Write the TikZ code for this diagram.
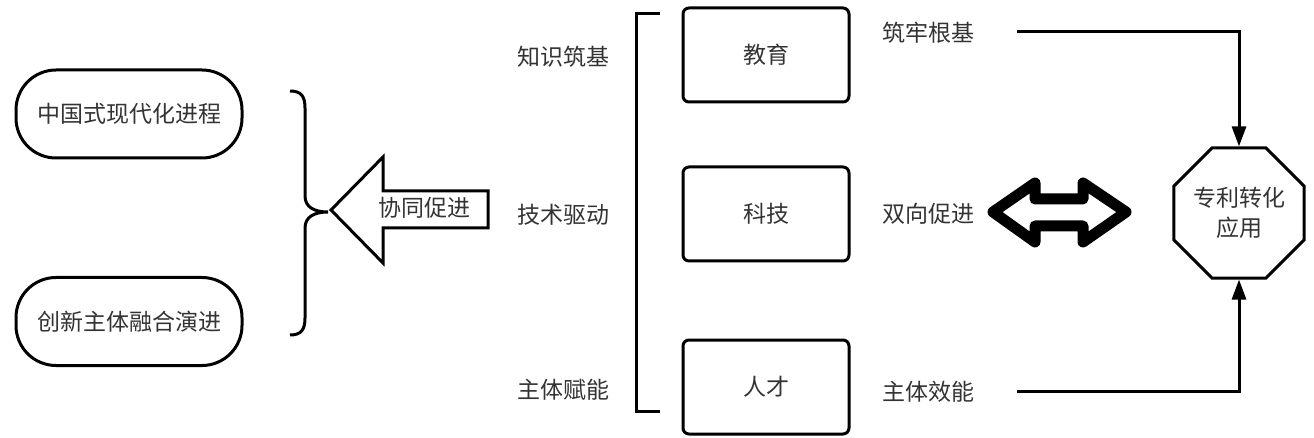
\documentclass[tikz,border=0pt]{standalone}
\usepackage{fontspec}
\setmainfont{Noto Sans CJK SC}
\usetikzlibrary{shapes.geometric,arrows.meta}
\begin{document}
\begin{tikzpicture}[x=1pt,y=-1pt,
  every node/.style={text=black!80, font=\fontsize{23}{30}\selectfont, inner sep=0pt},
  pill/.style={draw=black, line width=3pt, rounded corners=40pt, minimum width=226pt, minimum height=88pt},
  box/.style={draw=black, line width=3pt, rounded corners=6pt, minimum width=166pt, minimum height=94pt},
  lbl/.style={},
  conn/.style={draw=black, line width=3pt, -{Triangle[length=20pt,width=14pt]}},
  oct/.style={draw=black, line width=3pt, regular polygon, regular polygon sides=8, minimum size=138pt, align=center}
]
\useasboundingbox (0,0) rectangle (1314,438);
% left pills
\node[pill] (p1) at (129,114) {中国式现代化进程};
\node[pill] (p2) at (129,321.5) {创新主体融合演进};
% brace
\draw[line width=3pt] (290,91) .. controls (301,91) and (305,96) .. (305,108) -- (305,196)
  .. controls (305,207) and (314,212) .. (328,212)
  .. controls (314,212) and (305,217) .. (305,228) -- (305,318)
  .. controls (305,330) and (301,335) .. (290,335);
% hollow arrow
\draw[line width=3pt, line join=miter] (331,210) -- (383,157) -- (383,191) -- (488,191) -- (488,228) -- (383,228) -- (383,263) -- cycle;
\node (xt) at (424,208) {协同促进};
% left labels
\node[lbl] (l1) at (563,57) {知识筑基};
\node[lbl] (l2) at (563,215) {技术驱动};
\node[lbl] (l3) at (563,390) {主体赋能};
% bracket
\draw[line width=3pt] (660,14) -- (636,14) -- (636,411) -- (660,411);
% boxes
\node[box] (b1) at (766,55) {教育};
\node[box] (b2) at (766,214) {科技};
\node[box] (b3) at (766,387) {人才};
% right labels
\node[lbl] (r1) at (928,33) {筑牢根基};
\node[lbl] (r2) at (928,214) {双向促进};
\node[lbl] (r3) at (928,392) {主体效能};
% octagon
\node[oct] (o) at (1239,213) {专利转化\\应用};
% connectors
\coordinate (c1) at (1017,32);
\coordinate (c3) at (1017,391);
\draw[conn] (c1) -| (o.north);
\draw[conn] (c3) -| (o.south);
% double arrow
\draw[line width=11pt, line join=round] (993,212) -- (1035,183) -- (1035,199) -- (1083,199) -- (1083,183) -- (1126,212) -- (1083,242) -- (1083,226) -- (1035,226) -- (1035,242) -- cycle;
\end{tikzpicture}
\end{document}
